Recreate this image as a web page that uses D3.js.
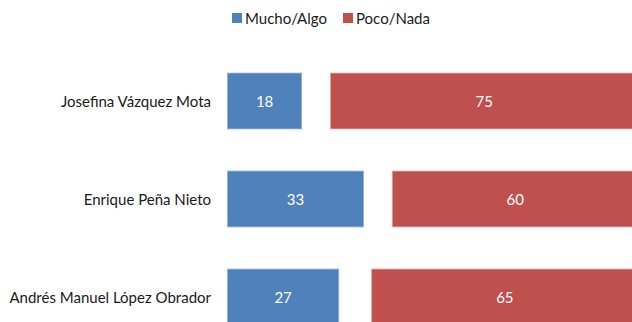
<!DOCTYPE html>
<html>
<head>
<meta charset="utf-8">
<script src="https://cdn.jsdelivr.net/npm/d3@7"></script>
<style>
  html, body { margin: 0; padding: 0; background: #fff; }
  svg { display: block; font-family: Lato, "Open Sans", sans-serif; }
</style>
</head>
<body>
<svg id="chart" width="632" height="322"></svg>
<script>
// Survey: opinion of each candidate (percent)
const candidates = ["Josefina Vázquez Mota", "Enrique Peña Nieto", "Andrés Manuel López Obrador"];
const muchoAlgo = [18, 33, 27];
const pocoNada = [75, 60, 65];
// Remaining share (no answer), left blank between the two bars
const noSabe = [7, 7, 8];
const seriesNames = ["Mucho/Algo", "Poco/Nada"];
const seriesColors = ["#4F81BD", "#C0504D"];

const svg = d3.select("#chart");
const W = 632, H = 322;

const rows = candidates.map((c, i) => ({
  name: c,
  segs: [
    { key: 0, x0: 0, x1: muchoAlgo[i], v: muchoAlgo[i] },
    { key: 1, x0: muchoAlgo[i] + noSabe[i], x1: muchoAlgo[i] + noSabe[i] + pocoNada[i], v: pocoNada[i] }
  ]
}));

const x = d3.scaleLinear().domain([0, 100]).range([227.5, 639.5]);
const y = d3.scaleBand().domain(candidates).range([52, 346]).paddingInner(0.43).paddingOuter(0.215);

// Category labels
svg.append("g").selectAll("text").data(candidates).join("text")
  .attr("x", 211)
  .attr("y", d => y(d) + y.bandwidth() / 2)
  .attr("text-anchor", "end")
  .attr("dominant-baseline", "central")
  .attr("font-size", 15)
  .attr("fill", "#1a1a1a")
  .text(d => d);

const g = svg.append("g").selectAll("g").data(rows).join("g")
  .attr("transform", d => `translate(0,${y(d.name)})`);

g.selectAll("rect").data(d => d.segs).join("rect")
  .attr("x", d => x(d.x0))
  .attr("y", 0)
  .attr("width", d => x(d.x1) - x(d.x0))
  .attr("height", y.bandwidth())
  .attr("fill", d => seriesColors[d.key])
  .attr("stroke", d => d.key === 0 ? "#8fb0dc" : "#dca3a2")
  .attr("stroke-width", 0.8);

g.selectAll("text").data(d => d.segs).join("text")
  .attr("x", d => (x(d.x0) + Math.min(x(d.x1), W)) / 2 + (d.key === 1 ? 3 : 0))
  .attr("y", y.bandwidth() / 2)
  .attr("text-anchor", "middle")
  .attr("dominant-baseline", "central")
  .attr("font-size", 15)
  .attr("fill", "#fff")
  .text(d => d.v);

// Legend
const legendX = [232, 343];
const lg = svg.append("g").selectAll("g").data(seriesNames).join("g")
  .attr("transform", (d, i) => `translate(${legendX[i]},13)`);
lg.append("rect").attr("width", 10).attr("height", 10).attr("fill", (d, i) => seriesColors[i]);
lg.append("text").attr("x", 13).attr("y", 5).attr("dominant-baseline", "central")
  .attr("font-size", 15).attr("fill", "#1a1a1a").text(d => d);
</script>
</body>
</html>
